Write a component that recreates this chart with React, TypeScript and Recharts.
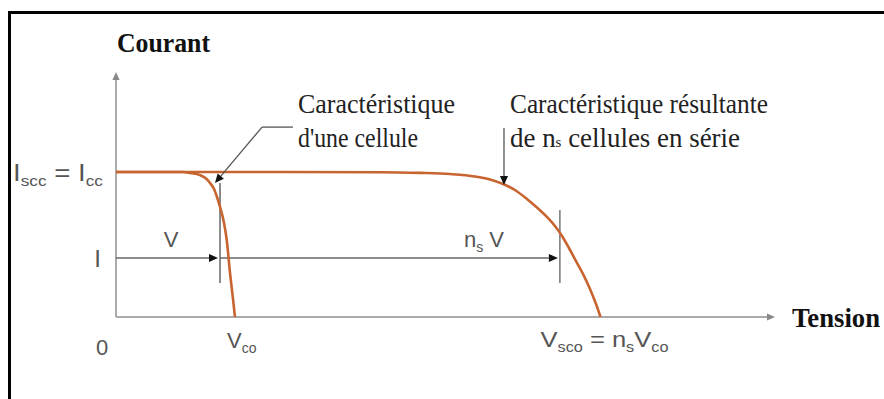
import { ComposedChart, Line, XAxis, YAxis, ReferenceLine } from 'recharts';

// I-V curve of a single cell (tension in Vco units, courant normalised to Icc)
const cellTension = [0, 0.3, 0.569, 0.629, 0.714, 0.765, 0.799, 0.833, 0.858, 0.884, 0.918, 0.941, 0.969, 0.992, 1.011];
const cellCourant = [1, 1, 1, 0.994, 0.979, 0.955, 0.924, 0.883, 0.828, 0.759, 0.648, 0.531, 0.303, 0.14, 0];

// resulting curve of ns cells in series
const serieTension = [
  0, 1.2, 2.243, 2.583, 2.838, 3.051, 3.178, 3.289, 3.39, 3.492, 3.577, 3.662, 3.73, 3.79, 3.849, 3.909, 3.968, 4.028,
  4.079, 4.117,
];
const serieCourant = [
  1, 1, 0.999, 0.994, 0.986, 0.969, 0.948, 0.917, 0.876, 0.814, 0.755, 0.69, 0.628, 0.559, 0.476, 0.386, 0.297, 0.193,
  0.09, 0,
];

const vco = 1.011;
const vsco = 4.117;
const icc = 1;
const iPoint = 0.407;
const vCell = 0.884; // V at current I for one cell
const vSerie = 3.772; // ns V at current I
const xTicks = [0, vco, vsco];
const yTicks = [iPoint, icc];
const xMax = 5.6;
const yMax = 1.69;

const cellData = cellTension.map((v, k) => ({ v, i: cellCourant[k] }));
const serieData = serieTension.map((v, k) => ({ v, i: serieCourant[k] }));

const CURVE = '#c8642f';
const AXIS = '#aaaaaa';
const SANS = '"Liberation Sans", Arial, sans-serif';
const SERIF = '"Liberation Serif", "Times New Roman", serif';

// line with optional arrow head at the end
const arrow = (color: string, width: number, head: number, headColor?: string) => (p: any) => {
  const { x1, y1, x2, y2 } = p;
  if (head === 0) {
    return <line x1={x1} y1={y1} x2={x2} y2={y2} stroke={color} strokeWidth={width} />;
  }
  const a = Math.atan2(y2 - y1, x2 - x1);
  const bx = x2 - head * Math.cos(a);
  const by = y2 - head * Math.sin(a);
  const w = head * 0.45;
  const px = -Math.sin(a) * w;
  const py = Math.cos(a) * w;
  return (
    <g>
      <line x1={x1} y1={y1} x2={bx} y2={by} stroke={color} strokeWidth={width} />
      <polygon
        points={`${x2},${y2} ${bx + px},${by + py} ${bx - px},${by - py}`}
        fill={headColor || color}
      />
    </g>
  );
};

const sub = (t: string, size = 14) => (
  <tspan fontSize={size} dy={5}>
    {t}
  </tspan>
);

const XTick = (props: any) => {
  const { x, y, payload } = props;
  const base = y + 31;
  const common = { fontFamily: SANS, fontSize: 22, fill: '#555' };
  if (payload.value === 0) {
    return (
      <text x={x - 14} y={base + 7} textAnchor="middle" {...common}>
        0
      </text>
    );
  }
  if (payload.value === vco) {
    return (
      <text x={x - 8} y={base} {...common}>
        V{sub('co')}
      </text>
    );
  }
  return (
    <text x={x - 60} y={base - 1} {...common} textLength={128} lengthAdjust="spacingAndGlyphs">
      V{sub('sco')}
      <tspan dy={-5}> = n</tspan>
      {sub('s')}
      <tspan dy={-5}>V</tspan>
      {sub('co')}
    </text>
  );
};

const YTick = (props: any) => {
  const { x, y, payload } = props;
  const common = { fontFamily: SANS, fontSize: 24, fill: '#555' };
  if (payload.value === iPoint) {
    return (
      <text x={x - 15} y={y + 9} textAnchor="end" {...common}>
        I
      </text>
    );
  }
  return (
    <text x={x - 103} y={y + 9} {...common} textLength={90} lengthAdjust="spacingAndGlyphs">
      I{sub('scc', 15)}
      <tspan dy={-5}> = I</tspan>
      {sub('cc', 15)}
    </text>
  );
};

export default function App() {
  return (
    <div style={{ position: 'absolute', left: 0, top: 0, width: 884, height: 399, background: '#fff' }}>
      <div
        style={{
          position: 'absolute',
          left: 8,
          top: 11,
          width: 876,
          height: 388,
          borderTop: '3px solid #000',
          borderLeft: '3px solid #000',
          boxSizing: 'border-box',
        }}
      />
      <div style={{ position: 'absolute', left: 0, top: 0 }}>
        <ComposedChart width={884} height={399} margin={{ top: 72, right: 109, bottom: 42, left: 76 }}>
          <XAxis
            type="number"
            dataKey="v"
            domain={[0, xMax]}
            allowDataOverflow
            ticks={xTicks}
            height={40}
            axisLine={false}
            tickLine={false}
            tickSize={0}
            tickMargin={0}
            tick={<XTick />}
            interval={0}
          />
          <YAxis
            type="number"
            dataKey="i"
            domain={[0, yMax]}
            allowDataOverflow
            ticks={yTicks}
            width={40}
            axisLine={false}
            tickLine={false}
            tickSize={0}
            tickMargin={0}
            tick={<YTick />}
            interval={0}
          />

          {/* axes with arrows */}
          <ReferenceLine segment={[{ x: 0, y: 0 }, { x: xMax, y: 0 }]} shape={arrow(AXIS, 2, 8, '#888')} />
          <ReferenceLine segment={[{ x: 0, y: 0 }, { x: 0, y: yMax }]} shape={arrow(AXIS, 2, 8, '#888')} />

          {/* dimension line at current I */}
          <ReferenceLine segment={[{ x: 0, y: iPoint }, { x: vCell - 0.017, y: iPoint }]} shape={arrow('#666', 1.6, 9, '#111')} />
          <ReferenceLine segment={[{ x: vCell, y: iPoint }, { x: vSerie - 0.017, y: iPoint }]} shape={arrow('#666', 1.6, 9, '#111')} />
          <ReferenceLine segment={[{ x: vCell, y: 0.924 }, { x: vCell, y: 0.234 }]} shape={arrow('#666', 1.5, 0)} />
          <ReferenceLine segment={[{ x: vSerie, y: 0.738 }, { x: vSerie, y: 0.234 }]} shape={arrow('#777', 1.5, 0)} />

          <Line data={cellData} dataKey="i" type="monotone" stroke={CURVE} strokeWidth={2.6} dot={false} isAnimationActive={false} />
          <Line data={serieData} dataKey="i" type="monotone" stroke={CURVE} strokeWidth={2.6} dot={false} isAnimationActive={false} />

          {/* leaders to the annotations */}
          <ReferenceLine segment={[{ x: 1.504, y: 1.31 }, { x: 1.241, y: 1.31 }]} shape={arrow('#555', 1.3, 0)} />
          <ReferenceLine segment={[{ x: 1.241, y: 1.31 }, { x: 0.841, y: 0.924 }]} shape={arrow('#555', 1.3, 9, '#111')} />
          <ReferenceLine segment={[{ x: 3.297, y: 1.303 }, { x: 3.297, y: 0.91 }]} shape={arrow('#555', 1.3, 9, '#111')} />

          <text x={117} y={52} fontFamily={SERIF} fontWeight="bold" fontSize={27} fill="#111" textLength={93} lengthAdjust="spacingAndGlyphs">
            Courant
          </text>
          <text x={792} y={327} fontFamily={SERIF} fontWeight="bold" fontSize={27} fill="#111" textLength={88} lengthAdjust="spacingAndGlyphs">
            Tension
          </text>

          <text x={298} y={113} fontFamily={SERIF} fontSize={27} fill="#222" textLength={157} lengthAdjust="spacingAndGlyphs">
            Caractéristique
          </text>
          <text x={298} y={147} fontFamily={SERIF} fontSize={27} fill="#222" textLength={120} lengthAdjust="spacingAndGlyphs">
            d'une cellule
          </text>
          <text x={510} y={113} fontFamily={SERIF} fontSize={27} fill="#222" textLength={258} lengthAdjust="spacingAndGlyphs">
            Caractéristique résultante
          </text>
          <text x={510} y={147} fontFamily={SERIF} fontSize={27} fill="#222" textLength={230} lengthAdjust="spacingAndGlyphs">
            de n<tspan fontSize={15}>s</tspan> cellules en série
          </text>

          <text x={171} y={247} textAnchor="middle" fontFamily={SANS} fontSize={22} fill="#555">
            V
          </text>
          <text x={464} y={247} fontFamily={SANS} fontSize={22} fill="#555">
            n<tspan fontSize={14} dy={5}>s</tspan>
            <tspan dy={-5}> V</tspan>
          </text>
        </ComposedChart>
      </div>
    </div>
  );
}
